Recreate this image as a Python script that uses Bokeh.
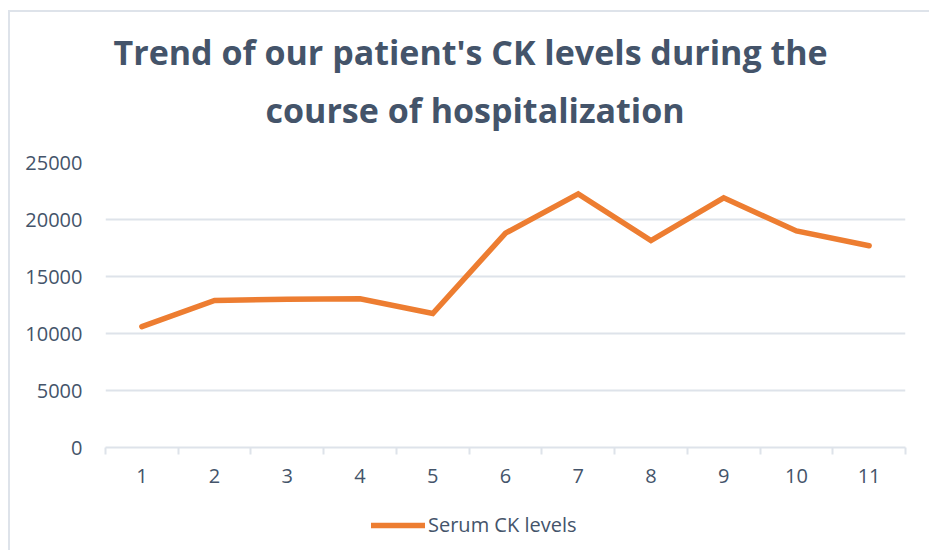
from bokeh.plotting import figure
from bokeh.layouts import column
from bokeh.models import (Range1d, FixedTicker, Title, Legend, LegendItem,
                          ColumnDataSource)
from bokeh.embed import file_html
from bokeh.resources import INLINE

days = [1, 2, 3, 4, 5, 6, 7, 8, 9, 10, 11]
ck_levels = [10600, 12900, 13000, 13050, 11750, 18800, 22250, 18150, 21900, 19000, 17700]
y_ticks = [0, 5000, 10000, 15000, 20000, 25000]
title_line1 = "Trend of our patient's CK levels during the"
title_line2 = "course of hospitalization"
series_name = "Serum CK levels"

TEXT = "#44546A"
GRID = "#DEE3EA"
ORANGE = "#ED7D31"
FONT = "Open Sans"

src = ColumnDataSource(dict(x=days, y=ck_levels))

p = figure(width=921, height=500, output_backend="svg", toolbar_location=None,
           x_range=Range1d(0.5, 11.5), y_range=Range1d(0, 25000),
           min_border_left=97, min_border_right=24, min_border_top=152,
           min_border_bottom=63)
p.outline_line_color = None
p.border_fill_alpha = 0

r = p.line("x", "y", source=src, line_color=ORANGE, line_width=5.5,
           line_cap="round", line_join="miter")

# axes
p.yaxis.ticker = FixedTicker(ticks=y_ticks)
p.yaxis.axis_line_color = None
p.yaxis.major_tick_line_color = None
p.yaxis.minor_tick_line_color = None
p.yaxis.major_label_text_font = FONT
p.yaxis.major_label_text_font_size = "20px"
p.yaxis.major_label_text_color = TEXT
p.yaxis.major_label_standoff = 17

p.xaxis.ticker = FixedTicker(ticks=days, minor_ticks=[d - 0.5 for d in days] + [days[-1] + 0.5])
p.xaxis.axis_line_color = GRID
p.xaxis.axis_line_width = 2
p.xaxis.major_tick_line_color = None
p.xaxis.minor_tick_line_color = GRID
p.xaxis.minor_tick_line_width = 2
p.xaxis.minor_tick_in = 0
p.xaxis.minor_tick_out = 7
p.xaxis.major_label_text_font = FONT
p.xaxis.major_label_text_font_size = "20px"
p.xaxis.major_label_text_color = TEXT
p.xaxis.major_label_standoff = 14

p.xgrid.grid_line_color = None
p.ygrid.ticker = FixedTicker(ticks=y_ticks)
p.ygrid.grid_line_color = GRID
p.ygrid.grid_line_width = 2

# title (two lines)
t2 = Title(text=title_line2, align="left", text_font=FONT, text_font_size="34px",
           text_font_style="bold", text_color=TEXT, standoff=60, offset=160)
t1 = Title(text=title_line1, align="left", text_font=FONT, text_font_size="34px",
           text_font_style="bold", text_color=TEXT, standoff=-40, offset=8)
p.add_layout(t2, "above")
p.add_layout(t1, "above")

# legend strip below the chart (proxy line kept outside its visible range)
p2 = figure(width=921, height=40, output_backend="svg", toolbar_location=None,
            x_range=Range1d(0, 1), y_range=Range1d(0, 1),
            min_border=0, x_axis_location=None, y_axis_location=None)
p2.outline_line_color = None
p2.border_fill_alpha = 0
p2.background_fill_alpha = 0
p2.grid.grid_line_color = None
r2 = p2.line(x=[-2, -1], y=[-2, -2], line_color=ORANGE, line_width=5.5, line_cap="round")

legend = Legend(items=[LegendItem(label=series_name, renderers=[r2])],
                orientation="horizontal", location=(266, 12),
                label_text_font=FONT, label_text_font_size="20px",
                label_text_color=TEXT, glyph_width=54,
                label_standoff=3, border_line_color=None,
                background_fill_alpha=0, margin=0, padding=0)
p2.add_layout(legend, "center")

layout = column(p, p2, spacing=0)
layout.styles = {"box-shadow": "inset 2px 2px 0 #DEE3EA", "margin-left": "8px", "margin-top": "10px"}

open("out.html", "w").write(file_html(layout, INLINE))
